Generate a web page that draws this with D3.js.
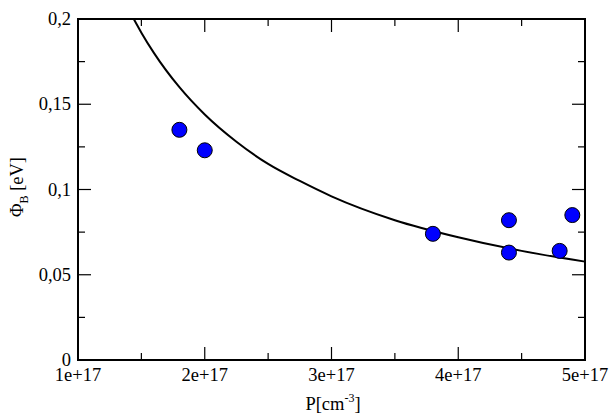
<!DOCTYPE html>
<html>
<head>
<meta charset="utf-8">
<script src="https://cdn.jsdelivr.net/npm/d3@7"></script>
<style>
  body { margin: 0; background: #fff; }
</style>
</head>
<body>
<svg id="chart" width="611" height="414"></svg>
<script>
// measured points, P in units of 1e17 cm^-3
var pointP   = [1.8, 2.0, 3.8, 4.4, 4.4, 4.8, 4.9];
var pointPhi = [0.135, 0.123, 0.074, 0.082, 0.063, 0.064, 0.085];

// fitted curve
var curveP   = [1.44, 1.5, 1.6, 1.8, 2.0, 2.25, 2.5, 2.75, 3.0, 3.5, 4.0, 4.5, 5.0];
var curvePhi = [0.200, 0.192, 0.180, 0.160, 0.144, 0.128, 0.115, 0.105, 0.096, 0.082, 0.072, 0.064, 0.0577];

var xTicks = [1, 2, 3, 4, 5];
var xTickLabels = ["1e+17", "2e+17", "3e+17", "4e+17", "5e+17"];
var xMinor = [1.5, 2.5, 3.5, 4.5];
var yTicks = [0, 0.05, 0.1, 0.15, 0.2];
var yTickLabels = ["0", "0,05", "0,1", "0,15", "0,2"];
var yMinor = [0.025, 0.075, 0.125, 0.175];

var FONT = "Liberation Serif";

var svg = d3.select("#chart");
var mLeft = 78, mRight = 585, mTop = 19, mBottom = 360;

var x = d3.scaleLinear().domain([1, 5]).range([mLeft, mRight]);
var y = d3.scaleLinear().domain([0, 0.2]).range([mBottom, mTop]);

var major = 13, minor = 7;

// ticks on all four sides, pointing in
var g = svg.append("g").attr("stroke", "#000").attr("stroke-width", 1.2);
xTicks.forEach(function(v) {
  g.append("line").attr("x1", x(v)).attr("x2", x(v)).attr("y1", mBottom).attr("y2", mBottom - major);
  g.append("line").attr("x1", x(v)).attr("x2", x(v)).attr("y1", mTop).attr("y2", mTop + major);
});
xMinor.forEach(function(v) {
  g.append("line").attr("x1", x(v)).attr("x2", x(v)).attr("y1", mBottom).attr("y2", mBottom - minor);
  g.append("line").attr("x1", x(v)).attr("x2", x(v)).attr("y1", mTop).attr("y2", mTop + minor);
});
yTicks.forEach(function(v) {
  g.append("line").attr("y1", y(v)).attr("y2", y(v)).attr("x1", mLeft).attr("x2", mLeft + major);
  g.append("line").attr("y1", y(v)).attr("y2", y(v)).attr("x1", mRight).attr("x2", mRight - major);
});
yMinor.forEach(function(v) {
  g.append("line").attr("y1", y(v)).attr("y2", y(v)).attr("x1", mLeft).attr("x2", mLeft + minor);
  g.append("line").attr("y1", y(v)).attr("y2", y(v)).attr("x1", mRight).attr("x2", mRight - minor);
});

// fitted curve
var line = d3.line()
  .x(function(d, i) { return x(curveP[i]); })
  .y(function(d, i) { return y(curvePhi[i]); })
  .curve(d3.curveMonotoneX);

svg.append("path")
  .datum(curveP)
  .attr("d", line)
  .attr("fill", "none")
  .attr("stroke", "#000")
  .attr("stroke-width", 2);

// points
svg.append("g")
  .selectAll("circle")
  .data(pointP)
  .enter().append("circle")
  .attr("cx", function(d) { return x(d); })
  .attr("cy", function(d, i) { return y(pointPhi[i]); })
  .attr("r", 7.5)
  .attr("fill", "#0000ff")
  .attr("stroke", "#000")
  .attr("stroke-width", 1);

// frame
svg.append("rect")
  .attr("x", mLeft).attr("y", mTop)
  .attr("width", mRight - mLeft).attr("height", mBottom - mTop)
  .attr("fill", "none")
  .attr("stroke", "#000")
  .attr("stroke-width", 2);

// tick labels
svg.append("g").selectAll("text")
  .data(xTicks)
  .enter().append("text")
  .attr("x", function(d) { return x(d); })
  .attr("y", 381)
  .attr("text-anchor", "middle")
  .attr("font-family", FONT)
  .attr("font-size", 18.5)
  .text(function(d, i) { return xTickLabels[i]; });

svg.append("g").selectAll("text")
  .data(yTicks)
  .enter().append("text")
  .attr("x", 71)
  .attr("y", function(d) { return y(d) + 6; })
  .attr("text-anchor", "end")
  .attr("font-family", FONT)
  .attr("font-size", 18.5)
  .text(function(d, i) { return yTickLabels[i]; });

// axis titles
var xt = svg.append("text")
  .attr("x", 333)
  .attr("y", 410)
  .attr("text-anchor", "middle")
  .attr("font-family", FONT)
  .attr("font-size", 18.5);
xt.append("tspan").text("P[cm");
xt.append("tspan").attr("dy", -8).attr("font-size", 12).text("-3");
xt.append("tspan").attr("dy", 8).text("]");

var yt = svg.append("text")
  .attr("transform", "translate(23,187) rotate(-90)")
  .attr("text-anchor", "middle")
  .attr("font-family", FONT)
  .attr("font-size", 18.5);
yt.append("tspan").text("\u03A6");
yt.append("tspan").attr("dy", 5).attr("font-size", 12).text("B");
yt.append("tspan").attr("dy", -5).text(" [eV]");
</script>
</body>
</html>
